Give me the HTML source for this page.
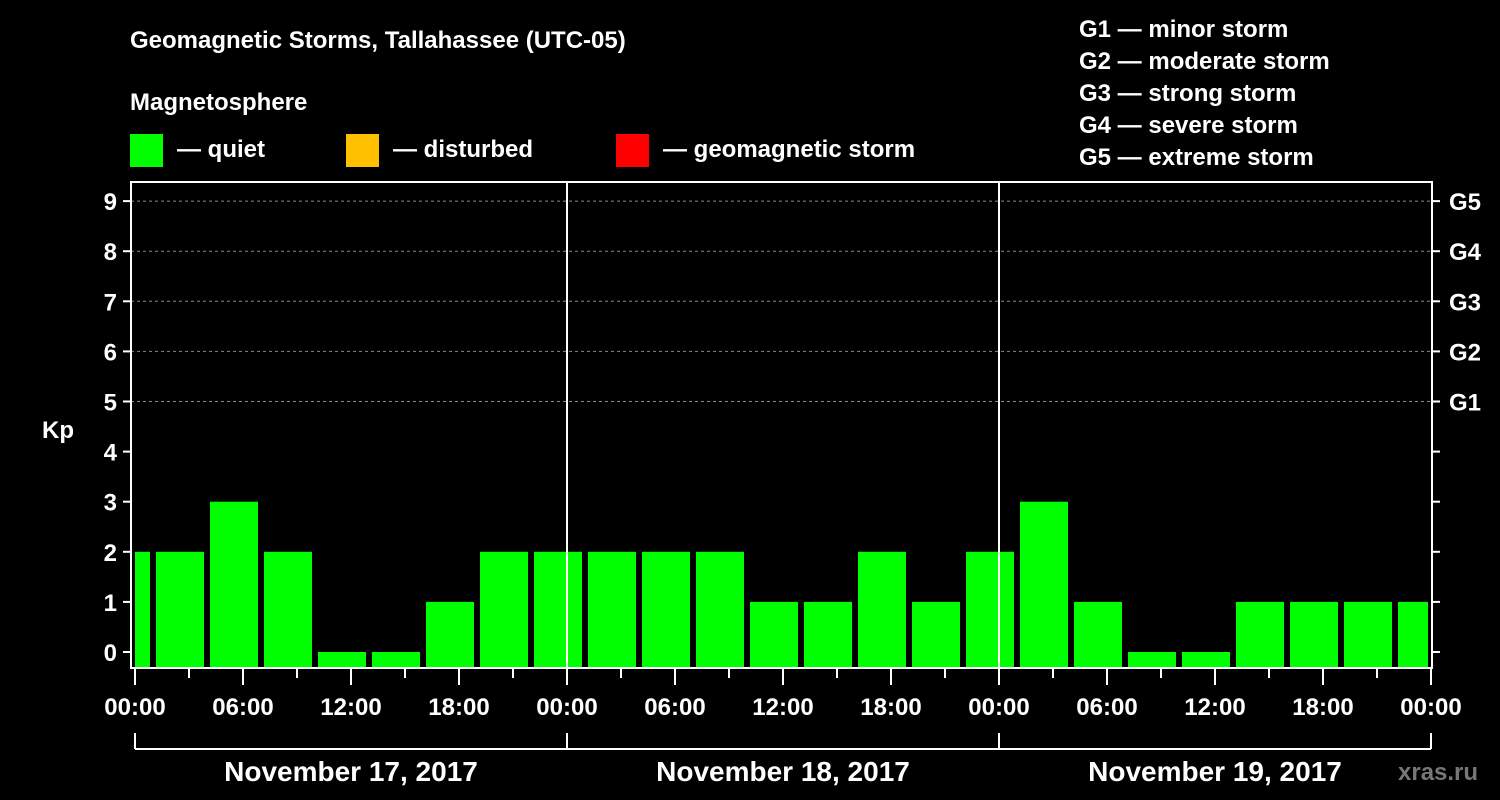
<!DOCTYPE html>
<html><head><meta charset="utf-8">
<style>
html,body{margin:0;padding:0;background:#000;}
svg{display:block;font-family:"Liberation Sans",Arial,sans-serif;font-weight:bold;}
</style></head>
<body>
<svg id="chart" width="1500" height="800" viewBox="0 0 1500 800">
<rect x="0" y="0" width="1500" height="800" fill="#000"/>
<text x="130" y="48" fill="#fff" font-size="24">Geomagnetic Storms, Tallahassee (UTC-05)</text>
<text x="130" y="110" fill="#fff" font-size="24">Magnetosphere</text>
<g><rect x="130" y="134" width="33" height="33" fill="#00ff00"/><text x="177" y="157" fill="#fff" font-size="24">— quiet</text></g>
<g><rect x="346" y="134" width="33" height="33" fill="#ffc000"/><text x="393" y="157" fill="#fff" font-size="24">— disturbed</text></g>
<g><rect x="616" y="134" width="33" height="33" fill="#ff0000"/><text x="663" y="157" fill="#fff" font-size="24">— geomagnetic storm</text></g>
<g fill="#fff" font-size="24">
<text x="1079" y="37">G1 — minor storm</text>
<text x="1079" y="69">G2 — moderate storm</text>
<text x="1079" y="101">G3 — strong storm</text>
<text x="1079" y="133">G4 — severe storm</text>
<text x="1079" y="165">G5 — extreme storm</text>
</g>
<text x="42" y="438" fill="#fff" font-size="24">Kp</text>
<text x="1398" y="780" fill="#777" font-size="24">xras.ru</text>
<g id="grid"></g><g id="bars"></g><g id="axes"></g>
</svg>
<script>
const kpValues=[2,2,3,2,0,0,1,2,2,2,2,2,1,1,2,1,2,3,1,0,0,1,1,1,1];
const yTicks=[0,1,2,3,4,5,6,7,8,9];
const gLabels=["G1","G2","G3","G4","G5"];
const xTickLabels=["00:00","06:00","12:00","18:00","00:00","06:00","12:00","18:00","00:00","06:00","12:00","18:00","00:00"];
const dayLabels=["November 17, 2017","November 18, 2017","November 19, 2017"];
const NS="http://www.w3.org/2000/svg";
const L=131,R=1432,T=182,B=668;
const x0=135,pxPerHour=18,offsetHours=(150-135)/18;
const y=v=>652-v*50.1;
const x=h=>x0+h*pxPerHour;
function mk(tag,attrs,parent,text){const e=document.createElementNS(NS,tag);for(const k in attrs)e.setAttribute(k,attrs[k]);if(text!==undefined)e.textContent=text;parent.appendChild(e);return e;}
const grid=document.getElementById('grid'),bars=document.getElementById('bars'),axes=document.getElementById('axes');
[5,6,7,8,9].forEach(v=>{const l=mk('line',{x1:L,x2:R,y1:y(v),y2:y(v),stroke:'#888','stroke-dasharray':'3,3','stroke-width':1},grid);

});
kpValues.forEach((v,i)=>{
 let s=offsetHours+(i-1)*3, e=s+3;
 let xs=i===0?x(0):x(s)+6, xe=Math.min(x(e),R-4);
 const c=v>=5?'#ff0000':(v>=4?'#ffc000':'#00ff00');
 const r=mk('rect',{x:xs,y:y(v),width:xe-xs,height:B-y(v),fill:c},bars);
 
 
});
[567,999].forEach((xx,i)=>{const l=mk('line',{x1:xx,x2:xx,y1:T,y2:B,stroke:'#fff','stroke-width':2},axes);

});
const f=mk('rect',{x:L,y:T,width:R-L,height:B-T,fill:'none',stroke:'#fff','stroke-width':2},axes);


yTicks.forEach(v=>{
 mk('line',{x1:L-8,x2:L,y1:y(v),y2:y(v),stroke:'#fff','stroke-width':2},axes);
 mk('line',{x1:R,x2:R+8,y1:y(v),y2:y(v),stroke:'#fff','stroke-width':2},axes);
 const t=mk('text',{x:L-14,y:y(v)+9,fill:'#fff','font-size':24,'text-anchor':'end'},axes,String(v));
 
 
});
gLabels.forEach((g,i)=>{const t=mk('text',{x:R+17,y:y(5+i)+9,fill:'#fff','font-size':24},axes,g);

});
for(let h=0;h<=72;h+=3){const major=h%6===0;
 mk('line',{x1:x(h),x2:x(h),y1:B,y2:major?685:678,stroke:'#fff','stroke-width':2},axes);}
xTickLabels.forEach((lab,i)=>{const t=mk('text',{x:x(i*6),y:715,fill:'#fff','font-size':24,'text-anchor':'middle'},axes,lab);

});
mk('line',{x1:x(0),x2:x(72),y1:749,y2:749,stroke:'#fff','stroke-width':2},axes);
for(let d=0;d<=3;d++)mk('line',{x1:x(d*24),x2:x(d*24),y1:733,y2:749,stroke:'#fff','stroke-width':2},axes);
dayLabels.forEach((lab,i)=>{const t=mk('text',{x:x(i*24+12),y:781,fill:'#fff','font-size':28,'text-anchor':'middle'},axes,lab);

});
</script>
</body></html>
